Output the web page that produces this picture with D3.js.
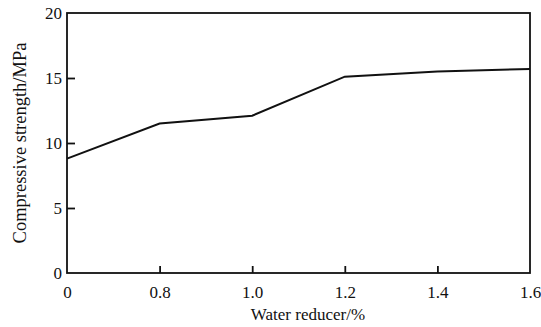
<!DOCTYPE html>
<html>
<head>
<meta charset="utf-8">
<script src="https://cdn.jsdelivr.net/npm/d3@7"></script>
<style>
  body { margin: 0; background: #fff; }
</style>
</head>
<body>
<script>
// data
var reducer = ["0", "0.8", "1.0", "1.2", "1.4", "1.6"];
var strength = [8.8, 11.5, 12.1, 15.1, 15.5, 15.7];
var yTicks = [0, 5, 10, 15, 20];

var serif = "'Times New Roman', 'Liberation Serif', 'DejaVu Serif', serif";

var w = 541, h = 327;
var margin = {top: 13, right: 11, bottom: 54, left: 67};
var iw = w - margin.left - margin.right;
var ih = h - margin.top - margin.bottom;

var svg = d3.select("body").append("svg")
    .attr("width", w)
    .attr("height", h);

var g = svg.append("g")
    .attr("transform", "translate(" + margin.left + "," + margin.top + ")");

// evenly spaced categories, like the original
var x = d3.scalePoint()
    .domain(reducer)
    .range([0, iw]);

var y = d3.scaleLinear()
    .domain([0, 20])
    .range([ih, 0]);

// frame
g.append("rect")
    .attr("width", iw)
    .attr("height", ih)
    .attr("fill", "none")
    .attr("stroke", "#111")
    .attr("stroke-width", 1.8);

var xAxis = g.append("g")
    .attr("transform", "translate(0," + ih + ")")
    .call(d3.axisBottom(x).tickSizeInner(-7).tickSizeOuter(0).tickPadding(13));

var yAxis = g.append("g")
    .call(d3.axisLeft(y).tickValues(yTicks).tickSizeInner(-8).tickSizeOuter(0).tickPadding(5));

[xAxis, yAxis].forEach(function(a) {
    a.select(".domain").remove();
    a.selectAll(".tick line").attr("stroke", "#111").attr("stroke-width", 1.8);
    a.selectAll(".tick text")
        .style("font-family", serif)
        .style("font-size", "17px")
        .attr("fill", "#111");
});

// hide edge ticks that sit on the frame
xAxis.selectAll(".tick line").filter(function(d, i) { return i === 0 || i === reducer.length - 1; }).remove();
yAxis.selectAll(".tick line").filter(function(d) { return d === 0 || d === 20; }).remove();

var line = d3.line()
    .x(function(d, i) { return x(reducer[i]); })
    .y(function(d) { return y(d); });

g.append("path")
    .datum(strength)
    .attr("d", line)
    .attr("fill", "none")
    .attr("stroke", "#111")
    .attr("stroke-width", 2);

// axis titles
svg.append("text")
    .attr("x", 308)
    .attr("y", 320)
    .attr("text-anchor", "middle")
    .style("font-family", serif)
    .style("font-size", "17px")
    .attr("fill", "#111")
    .text("Water reducer/%");

svg.append("text")
    .attr("transform", "translate(26," + (margin.top + ih / 2) + ") rotate(-90)")
    .attr("text-anchor", "middle")
    .style("font-family", serif)
    .style("font-size", "18.5px")
    .attr("fill", "#111")
    .text("Compressive strength/MPa");
</script>
</body>
</html>
